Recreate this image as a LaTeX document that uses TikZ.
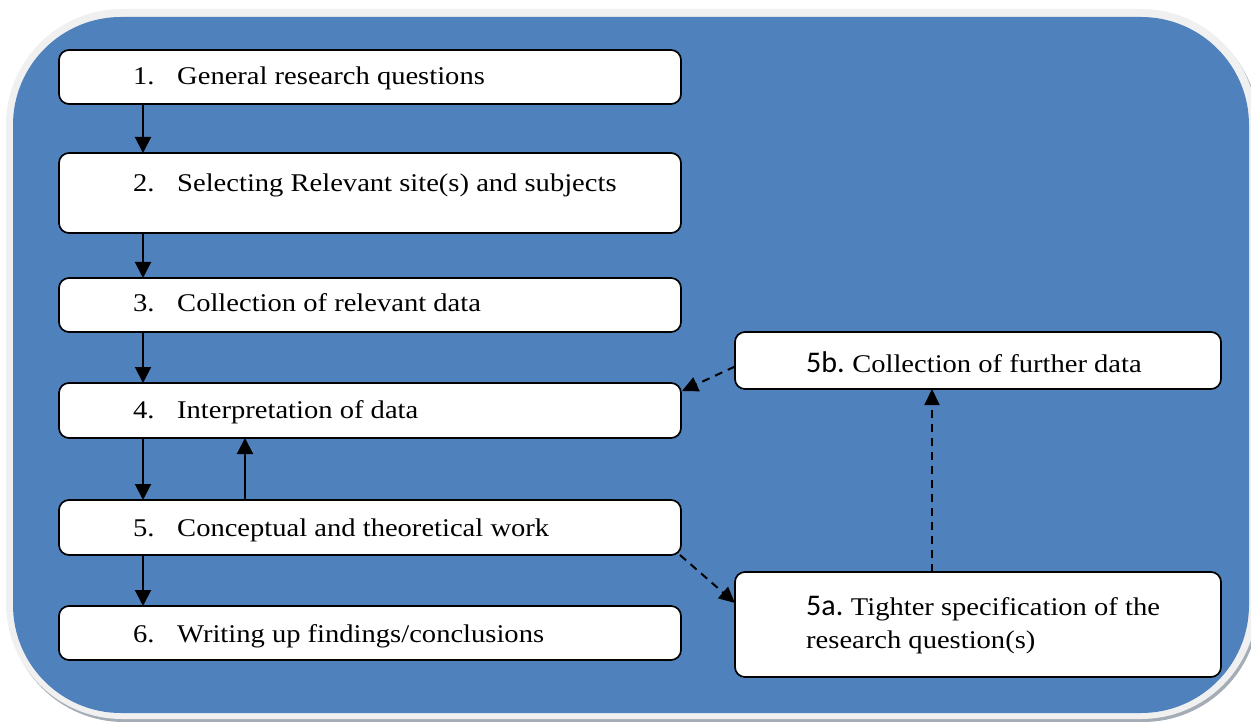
\documentclass[tikz,border=0pt]{standalone}
\usepackage{fontspec}
\setmainfont[FakeStretch=1.12]{Liberation Serif}
\newfontfamily\numfont{Carlito}
\usetikzlibrary{arrows.meta,calc}

\definecolor{panelblue}{HTML}{4F81BD}
\definecolor{panelrim}{HTML}{F0F0F0}
\definecolor{panelshade}{HTML}{A4ACB6}

\begin{document}
\begin{tikzpicture}[x=1pt,y=-1pt,
  stepbox/.style={draw=black, line width=1.7pt, fill=white, rounded corners=10pt,
                  inner sep=0pt, outer sep=0pt, anchor=north west},
  txt/.style={anchor=base west, inner sep=0pt, font=\fontsize{25.5}{33}\selectfont},
  flow/.style={line width=2pt, -{Triangle[length=16pt,width=16pt]}},
  loop/.style={line width=2pt, dash pattern=on 8pt off 6pt,
               -{Triangle[length=16pt,width=15pt]}}]

\useasboundingbox (0,0) rectangle (1251,722);
\clip (0,0) rectangle (1251,722);

% background panel: shadow, light rim, blue face
\fill[panelshade, rounded corners=116pt] (8,12) rectangle (1259,722);
\fill[panelrim, rounded corners=116pt]   (6,9)  rectangle (1257,719);
\fill[panelblue, rounded corners=108pt]  (13,17) rectangle (1249,713);

% main sequence of steps
\node[stepbox, minimum width=622pt, minimum height=54pt] (b1) at (59,50)  {};
\node[stepbox, minimum width=622pt, minimum height=80pt] (b2) at (59,153) {};
\node[stepbox, minimum width=622pt, minimum height=54pt] (b3) at (59,278) {};
\node[stepbox, minimum width=622pt, minimum height=55pt] (b4) at (59,383) {};
\node[stepbox, minimum width=622pt, minimum height=55pt] (b5) at (59,500) {};
\node[stepbox, minimum width=622pt, minimum height=54pt] (b6) at (59,606) {};

% side loop
\node[stepbox, minimum width=486pt, minimum height=57pt]  (b5b) at (735,332) {};
\node[stepbox, minimum width=486pt, minimum height=105pt] (b5a) at (735,572) {};

% labels
\node[txt] (n1) at (133,85)  {1.};
\node[txt] (t1) at (177,85)  {General research questions};
\node[txt] (n2) at (133,192) {2.};
\node[txt] (t2) at (177,192) {Selecting Relevant site(s) and subjects};
\node[txt] (n3) at (133,312) {3.};
\node[txt] (t3) at (177,312) {Collection of relevant data};
\node[txt] (n4) at (133,418) {4.};
\node[txt] (t4) at (177,418) {Interpretation of data};
\node[txt] (n5) at (133,536) {5.};
\node[txt] (t5) at (177,536) {Conceptual and theoretical work};
\node[txt] (n6) at (133,642) {6.};
\node[txt] (t6) at (177,642) {Writing up findings/conclusions};

\node[txt] (t5b)  at (806,372) {{\fontsize{30}{33}\numfont 5b.}\hspace{-2pt} Collection of further data};
\node[txt] (t5a1) at (806,615) {{\fontsize{30}{33}\numfont 5a.}\hspace{-2pt} Tighter specification of the};
\node[txt] (t5a2) at (806,648) {research question(s)};

% arrow columns
\coordinate (ax) at (143,0);
\coordinate (ux) at (245,0);
\coordinate (dx) at (932,0);

% solid flow
\draw[flow] (b1.south -| ax) -- (b2.north -| ax);
\draw[flow] (b2.south -| ax) -- (b3.north -| ax);
\draw[flow] (b3.south -| ax) -- (b4.north -| ax);
\draw[flow] (b4.south -| ax) -- (b5.north -| ax);
\draw[flow] (b5.north -| ux) -- (b4.south -| ux);
\draw[flow] (b5.south -| ax) -- (b6.north -| ax);

% dashed loop
\draw[loop] ([xshift=-1pt]b5.south east) -- ([yshift=-31pt]b5a.north west);
\draw[loop] (b5a.north -| dx) -- (b5b.south -| dx);
\draw[loop] ([yshift=-6pt]b5b.west) -- ([yshift=-8pt,xshift=1pt]b4.north east);

\end{tikzpicture}
\end{document}
